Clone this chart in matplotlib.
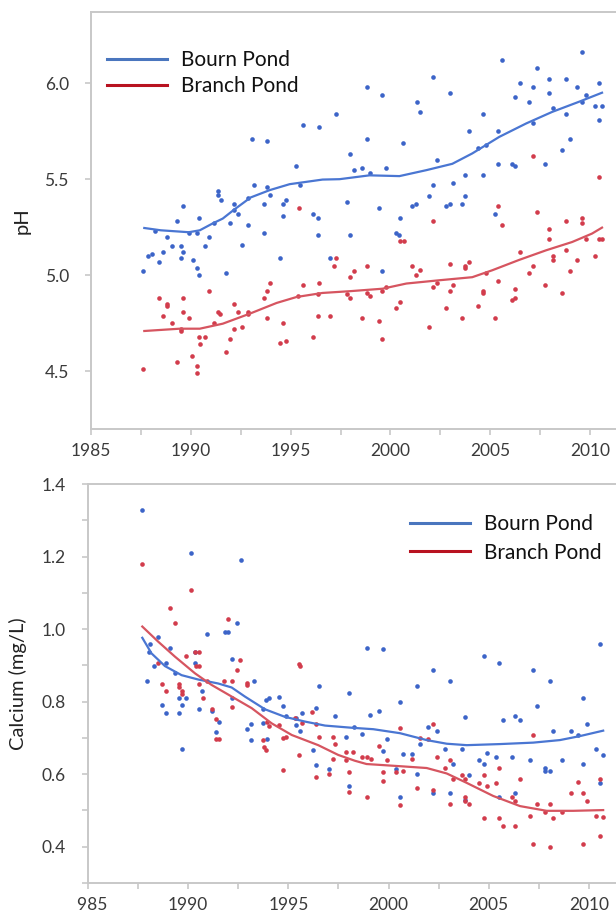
import numpy as np
import matplotlib
matplotlib.use("Agg")
import matplotlib.pyplot as plt
from matplotlib.lines import Line2D
from matplotlib.patches import Rectangle
from matplotlib.ticker import MultipleLocator

plt.rcParams['font.family'] = ['Lato', 'DejaVu Sans']

# ---- pH samples ----
bourn_ph_year = [1987.62, 1987.87, 1988.07, 1988.20, 1988.40, 1988.60, 1988.80, 1989.07, 1989.33, 1989.50,
                 1989.60, 1989.50, 1989.63, 1989.90, 1990.10, 1990.33, 1990.33, 1990.43, 1990.43, 1990.70,
                 1990.90, 1991.15, 1991.35, 1991.35, 1991.50, 1991.75, 1991.95, 1992.15, 1992.15, 1992.35,
                 1992.55, 1992.87, 1992.87, 1993.07, 1993.17, 1993.68, 1993.68, 1993.83, 1993.83, 1993.98,
                 1994.48, 1994.60, 1994.78, 1994.60, 1995.28, 1995.48, 1995.63, 1996.13, 1996.35, 1996.35,
                 1996.43, 1996.95, 1997.25, 1997.95, 1998.17, 1997.80, 1997.95, 1998.60, 1998.83, 1998.83,
                 1998.98, 1999.58, 1999.78, 1999.42, 1999.58, 2000.50, 2000.28, 2000.45, 2000.65, 2001.08,
                 2001.30, 2001.32, 2001.50, 2001.92, 2002.12, 2002.12, 2002.32, 2002.77, 2002.97, 2002.98,
                 2003.13, 2003.57, 2003.73, 2003.73, 2003.93, 2004.38, 2004.63, 2004.65, 2004.80, 2005.25,
                 2005.40, 2005.40, 2005.60, 2006.07, 2006.23, 2006.25, 2006.47, 2006.92, 2007.12, 2007.12,
                 2007.32, 2007.73, 2007.93, 2007.93, 2008.13, 2008.58, 2008.80, 2008.80, 2009.00, 2009.35,
                 2009.60, 2009.60, 2009.80, 2010.25, 2010.45, 2010.45, 2010.62]
bourn_ph = [5.02, 5.10, 5.11, 5.23, 5.07, 5.12, 5.20, 5.15, 5.28, 5.15,
            5.12, 5.09, 5.36, 5.22, 5.08, 5.22, 5.04, 5.00, 5.30, 5.15,
            5.20, 5.27, 5.44, 5.42, 5.39, 5.01, 5.27, 5.37, 5.34, 5.32,
            5.16, 5.40, 5.26, 5.71, 5.47, 5.37, 5.22, 5.70, 5.46, 5.42,
            5.09, 5.37, 5.39, 5.31, 5.57, 5.47, 5.78, 5.32, 5.30, 5.21,
            5.77, 5.09, 5.84, 5.63, 5.55, 5.38, 5.21, 5.56, 5.98, 5.71,
            5.53, 5.94, 5.56, 5.35, 5.02, 5.30, 5.22, 5.21, 5.69, 5.36,
            5.37, 5.90, 5.85, 5.41, 5.47, 6.03, 5.60, 5.36, 5.37, 5.95,
            5.48, 5.37, 5.41, 5.52, 5.75, 5.66, 5.52, 5.84, 5.68, 5.32,
            5.75, 5.58, 6.12, 5.58, 5.57, 5.93, 6.00, 5.90, 5.98, 5.79,
            6.08, 5.58, 6.02, 5.95, 5.87, 5.65, 6.02, 5.84, 5.71, 5.98,
            6.16, 5.90, 5.94, 5.88, 6.00, 5.81, 5.88]

branch_ph_year = [1987.62, 1988.40, 1988.80, 1988.80, 1988.60, 1989.07, 1989.50, 1989.50, 1989.33, 1989.63,
                  1989.63, 1989.90, 1990.08, 1990.33, 1990.33, 1990.43, 1990.70, 1990.45, 1990.90, 1991.15,
                  1991.35, 1991.45, 1991.75, 1991.95, 1992.15, 1992.15, 1992.35, 1992.55, 1992.87, 1992.87,
                  1993.68, 1993.83, 1993.98, 1993.83, 1994.48, 1994.78, 1994.60, 1995.43, 1995.37, 1995.63,
                  1996.10, 1996.35, 1996.35, 1996.43, 1996.95, 1997.17, 1997.25, 1997.80, 1997.95, 1997.95,
                  1998.17, 1998.60, 1998.83, 1998.98, 1998.83, 1999.42, 1999.58, 1999.58, 1999.78, 2000.28,
                  2000.50, 2000.50, 2000.67, 2001.08, 2001.30, 2001.50, 2001.92, 2002.12, 2002.12, 2002.32,
                  2002.77, 2002.97, 2002.97, 2003.13, 2003.57, 2003.73, 2003.73, 2003.93, 2004.38, 2004.63,
                  2004.63, 2004.80, 2005.25, 2005.38, 2005.38, 2005.60, 2006.10, 2006.25, 2006.25, 2006.47,
                  2006.92, 2007.12, 2007.12, 2007.32, 2007.73, 2007.93, 2007.93, 2008.13, 2008.13, 2008.58,
                  2008.78, 2008.78, 2008.98, 2009.35, 2009.60, 2009.60, 2009.80, 2010.25, 2010.45, 2010.45,
                  2010.62]
branch_ph = [4.51, 4.88, 4.85, 4.84, 4.79, 4.75, 4.72, 4.71, 4.55, 4.88,
             4.81, 4.78, 4.58, 4.53, 4.49, 4.68, 4.68, 4.64, 4.92, 4.75,
             4.81, 4.80, 4.60, 4.67, 4.85, 4.72, 4.81, 4.73, 4.81, 4.80,
             4.88, 4.92, 4.96, 4.78, 4.65, 4.66, 4.75, 5.35, 4.89, 4.95,
             4.68, 4.90, 4.79, 4.96, 4.79, 5.05, 5.09, 4.90, 4.88, 4.99,
             5.02, 4.78, 4.91, 4.89, 5.05, 4.76, 4.92, 4.67, 4.94, 4.83,
             4.86, 5.18, 5.18, 5.05, 5.00, 5.03, 4.73, 4.94, 5.28, 4.96,
             4.83, 4.92, 5.06, 4.95, 4.78, 5.05, 5.04, 5.07, 4.84, 4.92,
             4.91, 5.01, 4.78, 4.97, 5.36, 5.26, 4.87, 4.88, 4.93, 5.12,
             5.01, 5.05, 5.62, 5.33, 4.95, 5.24, 5.19, 5.10, 5.08, 4.91,
             5.28, 5.13, 5.02, 5.08, 5.30, 5.27, 5.19, 5.10, 5.51, 5.19,
             5.19]

# smoothed pH trends
bourn_ph_fit_year = [1987.67, 1988.5, 1989.9, 1990.45, 1991.1, 1991.6, 1992.15, 1993.0, 1993.95, 1994.95,
                     1996.6, 1997.45, 1998.95, 2000.45, 2001.8, 2003.1, 2004.1, 2005.45, 2006.8, 2008.1,
                     2009.45, 2010.6]
bourn_ph_fit = [5.246, 5.234, 5.224, 5.234, 5.27, 5.295, 5.34, 5.405, 5.443, 5.474,
                5.498, 5.50, 5.52, 5.516, 5.547, 5.58, 5.634, 5.72, 5.79, 5.85,
                5.903, 5.95]
branch_ph_fit_year = [1987.67, 1989.45, 1990.45, 1991.6, 1992.95, 1994.3, 1995.3, 1996.6, 1997.95, 1999.6,
                      2000.8, 2002.45, 2004.1, 2005.1, 2006.45, 2007.8, 2009.1, 2010.1, 2010.6]
branch_ph_fit = [4.71, 4.722, 4.722, 4.748, 4.80, 4.856, 4.887, 4.908, 4.917, 4.93,
                 4.957, 4.974, 4.99, 5.026, 5.08, 5.13, 5.173, 5.217, 5.248]

# ---- calcium samples ----
bourn_ca_year = [1987.68, 1987.93, 1988.06, 1988.09, 1988.28, 1988.47, 1988.69, 1988.87, 1988.87, 1989.09,
                 1989.34, 1989.56, 1989.56, 1989.70, 1989.70, 1989.90, 1990.12, 1990.35, 1990.35, 1990.52,
                 1990.70, 1990.92, 1991.19, 1991.39, 1991.52, 1991.84, 1992.00, 1992.20, 1992.20, 1992.42,
                 1992.62, 1992.91, 1993.12, 1993.12, 1993.27, 1993.73, 1993.73, 1993.87, 1993.91, 1994.03,
                 1994.55, 1994.71, 1994.88, 1995.36, 1995.36, 1995.58, 1995.68, 1996.23, 1996.38, 1996.38,
                 1996.54, 1997.04, 1997.34, 1997.87, 1998.02, 1998.02, 1998.29, 1998.67, 1998.94, 1999.07,
                 1999.54, 1999.70, 1999.70, 1999.90, 2000.37, 2000.57, 2000.57, 2000.70, 2001.18, 2001.42,
                 2001.43, 2001.57, 2001.98, 2002.20, 2002.20, 2002.40, 2002.84, 2003.06, 2003.06, 2003.23,
                 2003.68, 2003.83, 2003.83, 2004.03, 2004.49, 2004.74, 2004.74, 2004.89, 2005.36, 2005.51,
                 2005.51, 2005.71, 2006.17, 2006.31, 2006.31, 2006.57, 2007.04, 2007.19, 2007.39, 2007.79,
                 2007.79, 2008.05, 2008.05, 2008.20, 2008.65, 2009.08, 2009.43, 2009.68, 2009.68, 2009.90,
                 2010.35, 2010.56, 2010.56, 2010.71]
bourn_ca = [1.328, 0.858, 0.938, 0.958, 0.897, 0.978, 0.790, 0.770, 0.907, 0.948,
            0.878, 0.810, 0.770, 0.790, 0.669, 0.810, 1.210, 0.938, 0.907, 0.779,
            0.830, 0.986, 0.775, 0.716, 0.743, 0.991, 0.993, 0.917, 0.810, 1.018,
            1.190, 0.724, 0.739, 0.693, 0.858, 0.780, 0.740, 0.804, 0.697, 0.810,
            0.814, 0.789, 0.760, 0.756, 0.736, 0.718, 0.769, 0.667, 0.782, 0.625,
            0.844, 0.614, 0.761, 0.702, 0.825, 0.567, 0.729, 0.711, 0.948, 0.763,
            0.774, 0.945, 0.664, 0.696, 0.613, 0.799, 0.537, 0.656, 0.656, 0.600,
            0.844, 0.683, 0.729, 0.887, 0.547, 0.718, 0.669, 0.857, 0.547, 0.628,
            0.669, 0.758, 0.529, 0.597, 0.638, 0.628, 0.927, 0.658, 0.647, 0.907,
            0.537, 0.748, 0.647, 0.760, 0.547, 0.748, 0.638, 0.887, 0.789, 0.616,
            0.608, 0.608, 0.857, 0.718, 0.638, 0.718, 0.709, 0.628, 0.809, 0.738,
            0.669, 0.958, 0.576, 0.653]

branch_ca_year = [1987.68, 1988.49, 1988.69, 1988.89, 1989.09, 1989.34, 1989.54, 1989.54, 1989.70, 1989.70,
                  1989.90, 1990.12, 1990.35, 1990.52, 1990.39, 1990.55, 1990.52, 1990.72, 1990.92, 1991.19,
                  1991.37, 1991.39, 1991.55, 1991.80, 1992.00, 1992.20, 1992.20, 1992.42, 1992.60, 1992.91,
                  1992.91, 1993.73, 1993.88, 1993.80, 1993.91, 1994.05, 1994.55, 1994.71, 1994.88, 1994.71,
                  1995.35, 1995.51, 1995.58, 1995.51, 1995.69, 1996.19, 1996.38, 1996.54, 1996.38, 1997.04,
                  1997.24, 1997.34, 1997.24, 1997.86, 1998.22, 1997.86, 1998.02, 1998.02, 1998.67, 1998.94,
                  1999.10, 1998.94, 1999.54, 1999.90, 1999.70, 1999.70, 2000.37, 2000.73, 2000.57, 2000.57,
                  2001.18, 2001.43, 2001.57, 2001.98, 2002.20, 2002.20, 2002.40, 2002.84, 2003.06, 2003.23,
                  2003.06, 2003.68, 2003.83, 2003.83, 2003.83, 2004.03, 2004.49, 2004.74, 2004.89, 2004.74,
                  2005.36, 2005.51, 2005.51, 2005.71, 2006.17, 2006.31, 2006.31, 2006.57, 2007.04, 2007.19,
                  2007.39, 2007.19, 2007.79, 2008.05, 2008.20, 2008.05, 2008.65, 2009.08, 2009.43, 2009.68,
                  2009.90, 2009.68, 2010.35, 2010.71, 2010.56, 2010.56]
branch_ca = [1.179, 0.907, 0.849, 0.830, 1.059, 1.018, 0.849, 0.841, 0.830, 0.821,
             0.927, 1.109, 0.938, 0.938, 0.897, 0.897, 0.849, 0.810, 0.858, 0.779,
             0.753, 0.698, 0.696, 0.858, 1.028, 0.858, 0.784, 0.887, 0.915, 0.852,
             0.846, 0.694, 0.668, 0.674, 0.743, 0.734, 0.735, 0.700, 0.702, 0.611,
             0.755, 0.903, 0.898, 0.653, 0.742, 0.771, 0.738, 0.703, 0.592, 0.600,
             0.702, 0.683, 0.642, 0.660, 0.660, 0.639, 0.605, 0.552, 0.646, 0.646,
             0.642, 0.537, 0.679, 0.638, 0.606, 0.580, 0.606, 0.608, 0.726, 0.514,
             0.642, 0.562, 0.699, 0.696, 0.738, 0.556, 0.648, 0.618, 0.638, 0.588,
             0.517, 0.597, 0.588, 0.536, 0.527, 0.517, 0.576, 0.597, 0.567, 0.478,
             0.576, 0.618, 0.478, 0.458, 0.537, 0.527, 0.458, 0.588, 0.486, 0.708,
             0.517, 0.407, 0.497, 0.517, 0.478, 0.398, 0.497, 0.547, 0.578, 0.547,
             0.527, 0.407, 0.486, 0.481, 0.588, 0.429]

# smoothed calcium trends
bourn_ca_fit_year = [1987.71, 1988.17, 1988.84, 1989.67, 1990.5, 1991.5, 1992.17, 1992.83, 1993.83, 1994.83,
                     1995.83, 1996.83, 1998.16, 1999.24, 2000.57, 2001.9, 2002.9, 2003.9, 2005.56, 2007.22,
                     2008.55, 2009.55, 2010.71]
bourn_ca_fit = [0.976, 0.933, 0.898, 0.873, 0.861, 0.850, 0.839, 0.814, 0.779, 0.758,
                0.745, 0.734, 0.728, 0.724, 0.713, 0.694, 0.684, 0.680, 0.683, 0.687,
                0.694, 0.705, 0.720]
branch_ca_fit_year = [1987.71, 1988.51, 1989.34, 1990.34, 1991.17, 1992.17, 1993.17, 1994.17, 1995.17, 1996.49,
                      1997.49, 1998.32, 1998.9, 2000.57, 2001.9, 2002.9, 2003.9, 2005.22, 2006.56, 2007.89,
                      2009.22, 2010.71]
branch_ca_fit = [1.007, 0.965, 0.924, 0.878, 0.846, 0.814, 0.782, 0.740, 0.708, 0.680,
                 0.653, 0.637, 0.628, 0.622, 0.617, 0.602, 0.576, 0.540, 0.512, 0.499,
                 0.499, 0.501]

blue_dot = '#3c64c8'
red_dot = '#d23c4c'
blue_line = '#4a76d2'
red_line = '#d65560'
legend_blue = '#4a76be'
legend_red = '#b81220'
spine_col = '#c8c8c8'
text_col = '#3a3a3a'

W, H = 616, 913
fig = plt.figure(figsize=(W / 100, H / 100), dpi=100)

ax1 = fig.add_axes([91 / W, 1 - 429 / H, (W - 91) / W, 417 / H])
ax2 = fig.add_axes([88 / W, 1 - 883 / H, (W - 88) / W, 399 / H])


def style(ax):
    for side in ['left', 'bottom', 'top']:
        ax.spines[side].set_color(spine_col)
        ax.spines[side].set_linewidth(1.4)
    ax.spines['right'].set_visible(False)
    ax.tick_params(which='both', direction='out', color=spine_col, labelcolor=text_col,
                   labelsize=12.5, width=1.2, length=4)
    ax.tick_params(axis='y', pad=12)
    ax.tick_params(axis='x', pad=6)
    ax.xaxis.set_major_locator(MultipleLocator(5))
    ax.xaxis.set_minor_locator(MultipleLocator(2.5))


# pH panel
ax1.scatter(bourn_ph_year, bourn_ph, s=11, color=blue_dot, linewidths=0, zorder=3)
ax1.scatter(branch_ph_year, branch_ph, s=11, color=red_dot, linewidths=0, zorder=3)
ax1.plot(bourn_ph_fit_year, bourn_ph_fit, color=blue_line, lw=1.6, zorder=4)
ax1.plot(branch_ph_fit_year, branch_ph_fit, color=red_line, lw=1.6, zorder=4)
ax1.set_xlim(1985, 2011.3)
ax1.set_ylim(4.2, 6.37)
style(ax1)
ax1.set_yticks([4.5, 5.0, 5.5, 6.0])
ax1.set_yticklabels(['4.5', '5.0', '5.5', '6.0'])
ax1.set_ylabel('pH', fontsize=14.5, color='#222222')
ax1.yaxis.set_label_coords(-0.115, 0.5)

# calcium panel
ax2.scatter(bourn_ca_year, bourn_ca, s=11, color=blue_dot, linewidths=0, zorder=3)
ax2.scatter(branch_ca_year, branch_ca, s=11, color=red_dot, linewidths=0, zorder=3)
ax2.plot(bourn_ca_fit_year, bourn_ca_fit, color=blue_line, lw=1.6, zorder=4)
ax2.plot(branch_ca_fit_year, branch_ca_fit, color=red_line, lw=1.6, zorder=4)
ax2.set_xlim(1985, 2011.35)
ax2.set_ylim(0.3, 1.4)
style(ax2)
ax2.set_yticks([0.4, 0.6, 0.8, 1.0, 1.2, 1.4])
ax2.set_yticklabels(['0.4', '0.6', '0.8', '1.0', '1.2', '1.4'])
ax2.yaxis.set_minor_locator(MultipleLocator(0.1))
ax2.set_ylabel('Calcium (mg/L)', fontsize=14.5, color='#222222')
ax2.yaxis.set_label_coords(-0.115, 0.5)

# the lower panel's first year label runs off the left edge of the figure
fig.patches.append(Rectangle((0, 0), 77 / W, 26 / H, transform=fig.transFigure,
                             facecolor='white', edgecolor='none', zorder=10))

handles = [Line2D([], [], color=legend_blue, lw=2.2),
           Line2D([], [], color=legend_red, lw=2.2)]
names = ['Bourn Pond', 'Branch Pond']
for ax, x0, y0, gap in [(ax1, 107, 50, 0.3), (ax2, 410, 514, 0.42)]:
    ax.legend(handles, names, loc='upper left', bbox_to_anchor=(x0 / W, 1 - y0 / H),
              bbox_transform=fig.transFigure, frameon=False, fontsize=15,
              handlelength=2.9, handletextpad=0.65, labelspacing=gap,
              borderpad=0, borderaxespad=0, labelcolor='#111111')

fig.savefig('out.png', dpi=100)
